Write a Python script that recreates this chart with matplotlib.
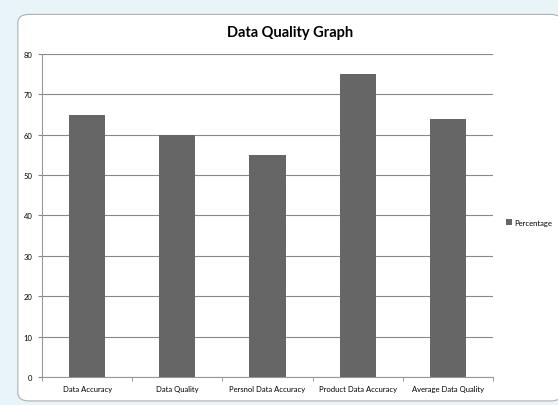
import matplotlib
matplotlib.use("Agg")
import matplotlib.pyplot as plt
from matplotlib.patches import FancyBboxPatch, Rectangle

categories = ["Data Accuracy", "Data Quality", "Persnol Data Accuracy", "Product Data Accuracy", "Average Data Quality"]
percentage = [65, 60, 55, 75, 64]
yticks = [0, 10, 20, 30, 40, 50, 60, 70, 80]

plt.rcParams['font.family'] = ['Lato', 'DejaVu Sans']

fig = plt.figure(figsize=(5.58, 4.06), dpi=100)
fig.patch.set_facecolor('white')

# spreadsheet-like frame
fig.patches.append(Rectangle((0, 0), 1, 1, transform=fig.transFigure, facecolor='#e8f4f8', edgecolor='none', zorder=-3))
fig.patches.append(FancyBboxPatch((0.032, 0.01), 0.975, 0.952, boxstyle="round,pad=0,rounding_size=0.02",
                                  transform=fig.transFigure, facecolor='white', edgecolor='#b0b0b0', linewidth=0.8, zorder=-2))

ax = fig.add_axes([0.0753, 0.069, 0.8082, 0.7955])
x = list(range(len(categories)))
ax.bar(x, percentage, width=0.4, color='#666666', label='Percentage', zorder=3)
ax.set_xlim(-0.5, 4.5)
ax.set_ylim(0, 80)
ax.set_yticks(yticks)
ax.set_yticklabels([str(v) for v in yticks], fontsize=5.5)
ax.grid(axis='y', color='#888888', linewidth=0.8, zorder=0)
ax.set_xticks(x)
ax.set_xticklabels(categories, fontsize=5.5)
ax.tick_params(axis='x', length=0, pad=6)
ax.set_xticks([i - 0.5 for i in range(len(categories) + 1)], minor=True)
ax.tick_params(axis='x', which='minor', length=3, color='#888888')
ax.tick_params(axis='y', length=3, color='#888888', pad=4)
for s in ['top', 'right']:
    ax.spines[s].set_visible(False)
for s in ['left', 'bottom']:
    ax.spines[s].set_color('#999999')
    ax.spines[s].set_linewidth(0.8)

fig.text(0.52, 0.918, "Data Quality Graph", ha='center', va='center', fontsize=10.5, fontweight='bold')
fig.legend(loc='center left', bbox_to_anchor=(0.895, 0.45), frameon=False, fontsize=5.5,
           handlelength=0.7, handleheight=0.7, handletextpad=0.3)

fig.savefig("out.png", dpi=100)
